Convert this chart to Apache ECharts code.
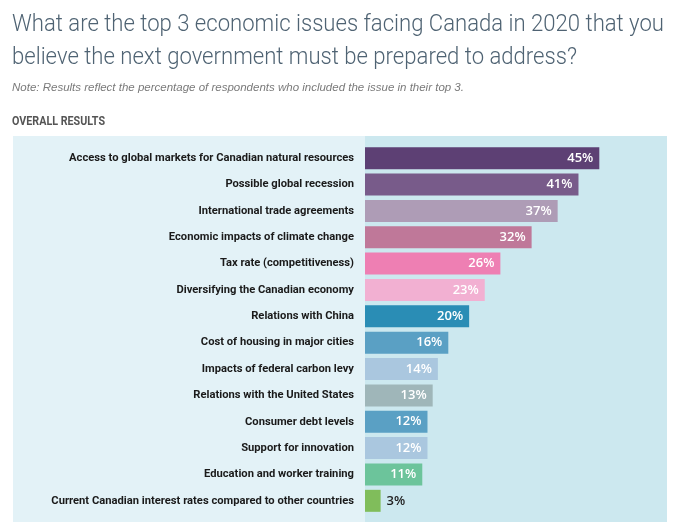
<!DOCTYPE html>
<html>
<head>
<meta charset="utf-8">
<script src="https://cdn.jsdelivr.net/npm/echarts@6/dist/echarts.min.js"></script>
<style>
  html, body { margin: 0; padding: 0; background: #fff; }
  #chart { width: 680px; height: 522px; }
</style>
</head>
<body>
<div id="chart"></div>
<script>
const ISSUES = [
  'Access to global markets for Canadian natural resources',
  'Possible global recession',
  'International trade agreements',
  'Economic impacts of climate change',
  'Tax rate (competitiveness)',
  'Diversifying the Canadian economy',
  'Relations with China',
  'Cost of housing in major cities',
  'Impacts of federal carbon levy',
  'Relations with the United States',
  'Consumer debt levels',
  'Support for innovation',
  'Education and worker training',
  'Current Canadian interest rates compared to other countries'
];

const SHARES = [45, 41, 37, 32, 26, 23, 20, 16, 14, 13, 12, 12, 11, 3];

const BAR_COLORS = [
  '#5d4074', '#785b8a', '#ae9cb6', '#bf7899', '#ee7fb3', '#f2b0d2', '#2a8db5',
  '#5aa0c4', '#aac7df', '#9fb6b9', '#5aa0c4', '#aac7df', '#6cc49b', '#80bd5b'
];

const TITLE_LINES = [
  'What are the top 3 economic issues facing Canada in 2020 that you',
  'believe the next government must be prepared to address?'
];
const NOTE_TEXT = 'Note: Results reflect the percentage of respondents who included the issue in their top 3.';
const SECTION_TEXT = 'OVERALL RESULTS';

const TITLE_FONT = '300 24px Roboto, "Noto Sans", sans-serif';
const SECTION_FONT = 'bold 12px Roboto, sans-serif';

// squeeze a text so it spans the same width as in the original
function squeezeTo(text, font, target) {
  const ctx = document.createElement('canvas').getContext('2d');
  ctx.font = font;
  const w = ctx.measureText(text).width;
  return w > 0 ? Math.min(1, target / w) : 1;
}

document.addEventListener('DOMContentLoaded', () => {
  const chart = echarts.init(document.getElementById('chart'), null, { renderer: 'canvas' });

  const option = {
    animation: false,
    backgroundColor: '#ffffff',
    graphic: [
      // panels behind the labels and the bars
      { type: 'rect', left: 13, top: 136, z: -10, shape: { width: 352, height: 386 }, style: { fill: '#e3f2f7' } },
      { type: 'rect', left: 365, top: 136, z: -10, shape: { width: 302, height: 386 }, style: { fill: '#cce8ef' } },
      {
        type: 'text', x: 12, y: 8, scaleX: squeezeTo(TITLE_LINES[0], TITLE_FONT, 652),
        style: {
          text: TITLE_LINES.join('\n'),
          font: TITLE_FONT,
          fill: '#4f6373',
          lineHeight: 33
        }
      },
      {
        type: 'text', left: 12, top: 82,
        style: {
          text: NOTE_TEXT,
          font: 'italic 11.5px "Liberation Sans", Arial, sans-serif',
          fill: '#7a7a7a'
        }
      },
      {
        type: 'text', x: 12, y: 116, scaleX: squeezeTo(SECTION_TEXT, SECTION_FONT, 93),
        style: {
          text: SECTION_TEXT,
          font: SECTION_FONT,
          fill: '#555555'
        }
      }
    ],
    grid: { left: 365, top: 145, width: 302, bottom: 8, containLabel: false },
    xAxis: {
      type: 'value',
      min: 0,
      max: 58,
      show: false
    },
    yAxis: {
      type: 'category',
      inverse: true,
      data: ISSUES,
      axisLine: { show: false },
      axisTick: { show: false },
      splitLine: { show: false },
      axisLabel: {
        margin: 11,
        color: '#1a1a1a',
        fontFamily: 'Roboto, sans-serif',
        fontWeight: 'bold',
        fontSize: 11.2
      }
    },
    series: [
      {
        type: 'bar',
        barWidth: 22,
        data: SHARES.map((v, i) => ({
          value: v,
          itemStyle: { color: BAR_COLORS[i] },
          label: v < 5
            ? { position: 'right', distance: 6, color: '#222222' }
            : { position: 'insideRight', distance: 6, color: '#ffffff' }
        })),
        label: {
          show: true,
          formatter: (p) => p.value + '%',
          fontFamily: '"Open Sans", "Noto Sans", sans-serif',
          fontWeight: 600,
          fontSize: 13
        }
      }
    ]
  };

  chart.setOption(option);
});
</script>
</body>
</html>
